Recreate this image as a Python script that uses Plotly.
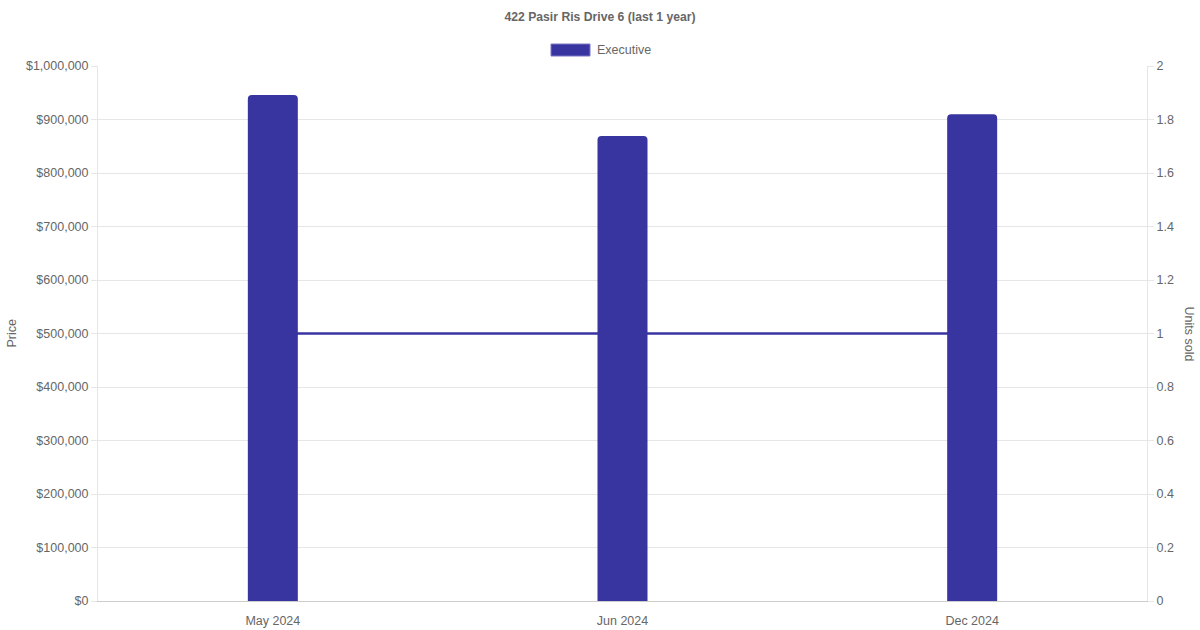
import plotly.graph_objects as go

# data
months = ["May 2024", "Jun 2024", "Dec 2024"]
prices = [946000, 869000, 910000]
units_sold = [1, 1, 1]
series_name = "Executive"
title_text = "422 Pasir Ris Drive 6 (last 1 year)"

bar_color = "#3935a0"
grid_color = "#e6e6e6"
text_color = "#666666"
tick_font = dict(size=12.5, color=text_color)

fig = go.Figure()

# units line on the base axis (right side), drawn underneath the bars
fig.add_trace(go.Scatter(
    x=months, y=units_sold, mode="lines", name=series_name,
    line=dict(color=bar_color, width=2.5), yaxis="y", showlegend=False,
    hoverinfo="skip",
))

# price bars on the overlaying axis (left side) so they sit on top
fig.add_trace(go.Bar(
    x=months, y=prices, name=series_name, marker_color=bar_color,
    marker_line_width=0, width=0.143, yaxis="y2", showlegend=False,
))

fig.update_layout(
    width=1200, height=630,
    paper_bgcolor="white", plot_bgcolor="white",
    font=dict(family="Liberation Sans, Arial, sans-serif", size=12, color=text_color),
    margin=dict(l=98, r=53, t=66, b=29),
    barcornerradius=4,
    showlegend=False,
    title=dict(text="<b>" + title_text + "</b>", x=0.5, xanchor="center",
               y=1 - 17 / 630, yanchor="middle", font=dict(size=12.2, color=text_color)),
    xaxis=dict(type="category", showgrid=False, showline=True, linecolor="#cccccc",
               ticks="", ticklabelstandoff=8, automargin=False, tickfont=tick_font),
    yaxis=dict(side="right", range=[0, 2], dtick=0.2, showgrid=True, gridcolor=grid_color,
               showline=True, linecolor=grid_color, ticks="outside", ticklen=6,
               tickcolor=grid_color, zeroline=False, automargin=False, tickfont=tick_font),
    yaxis2=dict(side="left", overlaying="y", range=[0, 1000000], dtick=100000,
                tickprefix="$", tickformat=",d", showgrid=False,
                showline=True, linecolor=grid_color, ticks="outside", ticklen=6,
                tickcolor=grid_color, zeroline=False, automargin=False, tickfont=tick_font),
)

# chart.js style legend: wide swatch plus label
fig.add_shape(type="rect", xref="paper", yref="paper",
              x0=(551 - 98) / 1049, x1=(590 - 98) / 1049,
              y0=(601 - 56) / 535, y1=(601 - 44) / 535,
              fillcolor=bar_color, line=dict(color="#7a77c4", width=1))
fig.add_annotation(xref="paper", yref="paper", x=(595 - 98) / 1049, y=(601 - 50) / 535,
                   text=series_name, showarrow=False, xanchor="left", yanchor="middle",
                   font=tick_font)

# axis titles
fig.add_annotation(xref="paper", yref="paper", x=(11 - 98) / 1049, y=0.5,
                   text="Price", textangle=-90, showarrow=False,
                   xanchor="center", yanchor="middle", font=tick_font)
fig.add_annotation(xref="paper", yref="paper", x=(1189 - 98) / 1049, y=0.5,
                   text="Units sold", textangle=90, showarrow=False,
                   xanchor="center", yanchor="middle", font=tick_font)

# drop the default page margin so the figure sits at the window's corner
fig.write_html("out.html", config={"displayModeBar": False},
               post_script="document.body.style.margin='0px';")
